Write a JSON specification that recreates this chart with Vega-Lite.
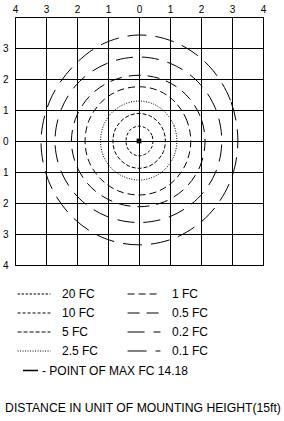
{
 "$schema": "https://vega.github.io/schema/vega-lite/v6.json",
 "width": 248,
 "height": 248,
 "autosize": {"type": "none"},
 "padding": {"left": 15, "top": 17, "right": 21, "bottom": 156},
 "background": "white",
 "config": {"view": {"stroke": "black", "strokeWidth": 1}, "font": "Liberation Sans"},
 "title": {"text": "DISTANCE IN UNIT OF MOUNTING HEIGHT(15ft)", "orient": "bottom", "anchor": "middle", "frame": "group", "fontSize": 12.2, "fontWeight": "normal", "color": "black", "offset": 25, "dx": 4},
 "datasets": {
  "rings": [
   {"level":"10 FC","i":0,"x":0.45,"y":0},{"level":"10 FC","i":1,"x":0.42,"y":0.18},{"level":"10 FC","i":2,"x":0.32,"y":0.34},{"level":"10 FC","i":3,"x":0.17,"y":0.44},{"level":"10 FC","i":4,"x":0,"y":0.48},{"level":"10 FC","i":5,"x":-0.16,"y":0.44},{"level":"10 FC","i":6,"x":-0.30,"y":0.34},{"level":"10 FC","i":7,"x":-0.39,"y":0.18},{"level":"10 FC","i":8,"x":-0.42,"y":0},{"level":"10 FC","i":9,"x":-0.39,"y":-0.18},{"level":"10 FC","i":10,"x":-0.30,"y":-0.34},{"level":"10 FC","i":11,"x":-0.16,"y":-0.44},{"level":"10 FC","i":12,"x":0,"y":-0.48},{"level":"10 FC","i":13,"x":0.17,"y":-0.44},{"level":"10 FC","i":14,"x":0.32,"y":-0.34},{"level":"10 FC","i":15,"x":0.42,"y":-0.18},
   {"level":"5 FC","i":0,"x":0.85,"y":0},{"level":"5 FC","i":1,"x":0.79,"y":0.34},{"level":"5 FC","i":2,"x":0.60,"y":0.63},{"level":"5 FC","i":3,"x":0.33,"y":0.82},{"level":"5 FC","i":4,"x":0,"y":0.89},{"level":"5 FC","i":5,"x":-0.32,"y":0.82},{"level":"5 FC","i":6,"x":-0.59,"y":0.63},{"level":"5 FC","i":7,"x":-0.78,"y":0.34},{"level":"5 FC","i":8,"x":-0.84,"y":0},{"level":"5 FC","i":9,"x":-0.78,"y":-0.34},{"level":"5 FC","i":10,"x":-0.59,"y":-0.62},{"level":"5 FC","i":11,"x":-0.32,"y":-0.81},{"level":"5 FC","i":12,"x":0,"y":-0.88},{"level":"5 FC","i":13,"x":0.33,"y":-0.81},{"level":"5 FC","i":14,"x":0.60,"y":-0.62},{"level":"5 FC","i":15,"x":0.79,"y":-0.34},
   {"level":"2.5 FC","i":0,"x":1.22,"y":0},{"level":"2.5 FC","i":1,"x":1.13,"y":0.49},{"level":"2.5 FC","i":2,"x":0.86,"y":0.91},{"level":"2.5 FC","i":3,"x":0.47,"y":1.19},{"level":"2.5 FC","i":4,"x":0,"y":1.29},{"level":"2.5 FC","i":5,"x":-0.47,"y":1.19},{"level":"2.5 FC","i":6,"x":-0.88,"y":0.91},{"level":"2.5 FC","i":7,"x":-1.15,"y":0.49},{"level":"2.5 FC","i":8,"x":-1.24,"y":0},{"level":"2.5 FC","i":9,"x":-1.15,"y":-0.48},{"level":"2.5 FC","i":10,"x":-0.88,"y":-0.89},{"level":"2.5 FC","i":11,"x":-0.47,"y":-1.16},{"level":"2.5 FC","i":12,"x":0,"y":-1.26},{"level":"2.5 FC","i":13,"x":0.47,"y":-1.16},{"level":"2.5 FC","i":14,"x":0.86,"y":-0.89},{"level":"2.5 FC","i":15,"x":1.13,"y":-0.48},
   {"level":"1 FC","i":0,"x":1.67,"y":0},{"level":"1 FC","i":1,"x":1.54,"y":0.67},{"level":"1 FC","i":2,"x":1.18,"y":1.24},{"level":"1 FC","i":3,"x":0.64,"y":1.62},{"level":"1 FC","i":4,"x":0,"y":1.75},{"level":"1 FC","i":5,"x":-0.67,"y":1.62},{"level":"1 FC","i":6,"x":-1.23,"y":1.24},{"level":"1 FC","i":7,"x":-1.61,"y":0.67},{"level":"1 FC","i":8,"x":-1.74,"y":0},{"level":"1 FC","i":9,"x":-1.61,"y":-0.67},{"level":"1 FC","i":10,"x":-1.23,"y":-1.23},{"level":"1 FC","i":11,"x":-0.67,"y":-1.61},{"level":"1 FC","i":12,"x":0,"y":-1.74},{"level":"1 FC","i":13,"x":0.64,"y":-1.61},{"level":"1 FC","i":14,"x":1.18,"y":-1.23},{"level":"1 FC","i":15,"x":1.54,"y":-0.67},
   {"level":"0.5 FC","i":0,"x":2.13,"y":0},{"level":"0.5 FC","i":1,"x":1.97,"y":0.81},{"level":"0.5 FC","i":2,"x":1.51,"y":1.50},{"level":"0.5 FC","i":3,"x":0.82,"y":1.96},{"level":"0.5 FC","i":4,"x":0,"y":2.12},{"level":"0.5 FC","i":5,"x":-0.83,"y":1.96},{"level":"0.5 FC","i":6,"x":-1.54,"y":1.50},{"level":"0.5 FC","i":7,"x":-2.01,"y":0.81},{"level":"0.5 FC","i":8,"x":-2.18,"y":0},{"level":"0.5 FC","i":9,"x":-2.01,"y":-0.81},{"level":"0.5 FC","i":10,"x":-1.54,"y":-1.50},{"level":"0.5 FC","i":11,"x":-0.83,"y":-1.96},{"level":"0.5 FC","i":12,"x":0,"y":-2.12},{"level":"0.5 FC","i":13,"x":0.82,"y":-1.96},{"level":"0.5 FC","i":14,"x":1.51,"y":-1.50},{"level":"0.5 FC","i":15,"x":1.97,"y":-0.81},
   {"level":"0.2 FC","i":0,"x":2.67,"y":0},{"level":"0.2 FC","i":1,"x":2.47,"y":1.04},{"level":"0.2 FC","i":2,"x":1.89,"y":1.92},{"level":"0.2 FC","i":3,"x":1.02,"y":2.50},{"level":"0.2 FC","i":4,"x":0,"y":2.71},{"level":"0.2 FC","i":5,"x":-1.04,"y":2.50},{"level":"0.2 FC","i":6,"x":-1.92,"y":1.92},{"level":"0.2 FC","i":7,"x":-2.50,"y":1.04},{"level":"0.2 FC","i":8,"x":-2.71,"y":0},{"level":"0.2 FC","i":9,"x":-2.50,"y":-1.01},{"level":"0.2 FC","i":10,"x":-1.92,"y":-1.86},{"level":"0.2 FC","i":11,"x":-1.04,"y":-2.43},{"level":"0.2 FC","i":12,"x":0,"y":-2.63},{"level":"0.2 FC","i":13,"x":1.02,"y":-2.43},{"level":"0.2 FC","i":14,"x":1.89,"y":-1.86},{"level":"0.2 FC","i":15,"x":2.47,"y":-1.01},
   {"level":"0.1 FC","i":0,"x":3.19,"y":0},{"level":"0.1 FC","i":1,"x":2.95,"y":1.31},{"level":"0.1 FC","i":2,"x":2.26,"y":2.42},{"level":"0.1 FC","i":3,"x":1.22,"y":3.16},{"level":"0.1 FC","i":4,"x":0,"y":3.42},{"level":"0.1 FC","i":5,"x":-1.19,"y":3.12},{"level":"0.1 FC","i":6,"x":-2.17,"y":2.36},{"level":"0.1 FC","i":7,"x":-2.88,"y":1.29},{"level":"0.1 FC","i":8,"x":-3.16,"y":0},{"level":"0.1 FC","i":9,"x":-2.92,"y":-1.28},{"level":"0.1 FC","i":10,"x":-2.23,"y":-2.37},{"level":"0.1 FC","i":11,"x":-1.21,"y":-3.10},{"level":"0.1 FC","i":12,"x":0,"y":-3.35},{"level":"0.1 FC","i":13,"x":1.22,"y":-3.10},{"level":"0.1 FC","i":14,"x":2.26,"y":-2.37},{"level":"0.1 FC","i":15,"x":2.95,"y":-1.28}
  ],
  "pt": [{"x": 0, "y": 0, "label": "- POINT OF MAX FC 14.18"}]
 },
 "encoding": {
  "x": {"field": "x", "type": "quantitative",
   "scale": {"domain": [-4, 4], "nice": false, "zero": false},
   "axis": {"orient": "top", "values": [-4,-3,-2,-1,0,1,2,3,4], "labelExpr": "'' + abs(datum.value)", "title": null, "domain": false, "ticks": false, "tickSize": 0, "labelPadding": 3, "labelFontSize": 10, "labelFont": "Liberation Sans", "labelColor": "black", "labelFlush": false, "labelOverlap": false, "labelBound": false, "grid": true, "gridColor": "black", "gridOpacity": 1, "gridWidth": 1}},
  "y": {"field": "y", "type": "quantitative",
   "scale": {"domain": [-4, 4], "nice": false, "zero": false},
   "axis": {"orient": "left", "values": [3,2,1,0,-1,-2,-3,-4], "labelExpr": "'' + abs(datum.value)", "title": null, "domain": false, "ticks": false, "tickSize": 0, "labelPadding": 7, "labelFontSize": 10, "labelFont": "Liberation Sans", "labelColor": "black", "labelFlush": false, "labelOverlap": false, "labelBound": false, "grid": true, "gridColor": "black", "gridOpacity": 1, "gridWidth": 1}}
 },
 "layer": [
  {
   "data": {"name": "rings"},
   "mark": {"type": "line", "interpolate": "cardinal-closed", "strokeWidth": 1, "color": "black"},
   "encoding": {
    "order": {"field": "i", "type": "quantitative"},
    "strokeDash": {"field": "level", "type": "nominal",
     "scale": {"domain": ["20 FC","10 FC","5 FC","2.5 FC","1 FC","0.5 FC","0.2 FC","0.1 FC"],
               "range": [[2.5,1.5],[3,2],[4,2],[1,1.5],[7,4],[12,7],[17,9],[19,9]]},
     "legend": {"title": null, "orient": "none", "legendX": 13, "legendY": 271, "columns": 2, "symbolType": "M-6,0H6", "symbolSize": 30, "symbolStrokeWidth": 1, "symbolStrokeColor": "black", "labelFontSize": 12, "labelFont": "Liberation Sans", "labelColor": "black", "labelOffset": 22, "rowPadding": 7, "columnPadding": 26, "labelLimit": 200}}
   }
  },
  {
   "data": {"name": "pt"},
   "mark": {"type": "point", "shape": "square", "filled": false, "size": 5, "strokeWidth": 2.5, "opacity": 1},
   "encoding": {
    "color": {"field": "label", "type": "nominal", "scale": {"range": ["black"]},
     "legend": {"title": null, "orient": "none", "legendX": 7, "legendY": 345, "symbolType": "stroke", "symbolSize": 225, "symbolStrokeWidth": 1.5, "symbolStrokeColor": "black", "labelFontSize": 12, "labelFont": "Liberation Sans", "labelColor": "black", "labelOffset": 3, "labelLimit": 300}}
   }
  }
 ]
}
